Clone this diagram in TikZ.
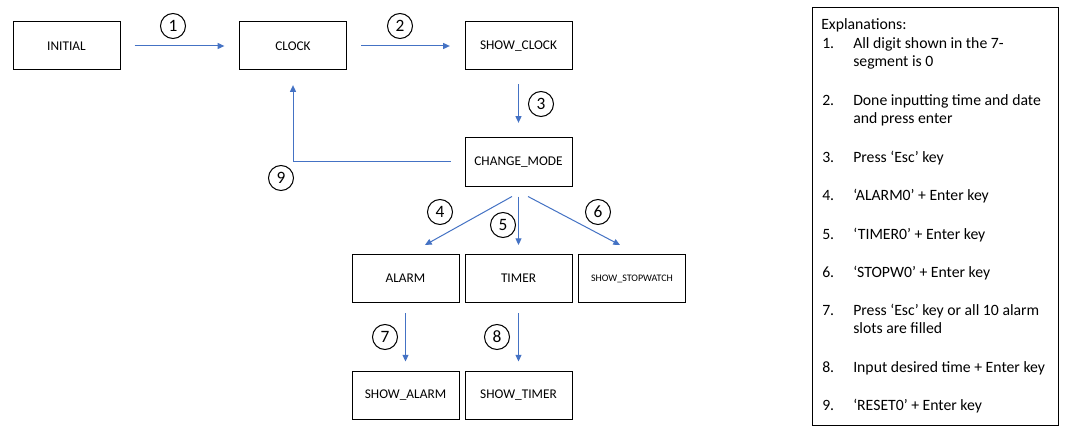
\documentclass[tikz,border=0pt]{standalone}
\usepackage{fontspec}
\setmainfont{Carlito}
\usetikzlibrary{arrows.meta}
\definecolor{flowblue}{HTML}{4472C4}
\tikzset{
  state/.style={draw, line width=0.75pt, minimum width=80.25pt, minimum height=36pt, inner sep=0pt, font=\fontsize{10}{12}\selectfont},
  flow/.style={draw=flowblue, line width=0.75pt, -{Triangle[length=5pt,width=4.5pt]}, shorten <=10.5pt, shorten >=11pt},
  short/.style={shorten <=7.5pt, shorten >=6.75pt},
  num/.style={draw, circle, line width=0.75pt, minimum size=18.75pt, inner sep=0pt, font=\fontsize{13}{15}\selectfont},
  expl/.style={anchor=base west, inner sep=0pt, font=\fontsize{11.8}{14}\selectfont}
}
\begin{document}
\begin{tikzpicture}[x=0.75pt,y=-0.75pt]
\path[fill=white,use as bounding box] (0,0) rectangle (1065,435);
\node[state] (initial) at (66.5,46) {INITIAL};
\node[state] (clock) at (293,46) {CLOCK};
\node[state] (showclock) at (518.5,46) {SHOW\_CLOCK};
\node[state] (mode) at (518.5,162) {CHANGE\_MODE};
\node[state] (alarm) at (405.5,278.5) {ALARM};
\node[state] (timer) at (518.5,278.5) {TIMER};
\node[state, font=\fontsize{7.5}{9}\selectfont] (stopwatch) at (632,278.5) {SHOW\_STOPWATCH};
\node[state] (showalarm) at (405.5,395) {SHOW\_ALARM};
\node[state] (showtimer) at (518.5,395) {SHOW\_TIMER};

\path[flow] (initial) -- (clock);
\path[flow] (clock) -- (showclock);
\path[flow] (showclock) -- (mode);
\path[flow] (mode.west) -| (clock.south);
\path[flow, shorten <=0pt, shorten >=0pt] ([shift={(-6.5,10)}]mode.south) -- ([shift={(19.5,-9)}]alarm.north);
\path[flow, short] (mode) -- (timer);
\path[flow, shorten <=0pt, shorten >=0pt] ([shift={(9.5,10)}]mode.south) -- ([shift={(-12,-9)}]stopwatch.north);
\path[flow, short] (alarm) -- (showalarm);
\path[flow, short] (timer) -- (showtimer);

\node[num] (n1) at (173,26) {1};
\node[num] (n2) at (400,26) {2};
\node[num] (n3) at (541,104) {3};
\node[num] (n4) at (440,212) {4};
\node[num] (n5) at (503,225) {5};
\node[num] (n6) at (598,212) {6};
\node[num] (n7) at (385,337) {7};
\node[num] (n8) at (497,337) {8};
\node[num] (n9) at (281,178) {9};

% explanations
\draw[line width=0.75pt] (812,8) rectangle (1058,425);
\node[expl] (title) at (821,30) {Explanations:};
\node[expl] (k1) at (822,49) {1.};
\node[expl] (t1) at (853,49) {All digit shown in the 7-};
\node[expl] (t1b) at (853,67) {segment is 0};
\node[expl] (k2) at (822,105.5) {2.};
\node[expl] (t2) at (853,105.5) {Done inputting time and date};
\node[expl] (t2b) at (853,123.5) {and press enter};
\node[expl] (k3) at (822,162) {3.};
\node[expl] (t3) at (853,162) {Press ‘Esc’ key};
\node[expl] (k4) at (822,200.5) {4.};
\node[expl] (t4) at (853,200.5) {‘ALARM0’ + Enter key};
\node[expl] (k5) at (822,239) {5.};
\node[expl] (t5) at (853,239) {‘TIMER0’ + Enter key};
\node[expl] (k6) at (822,277) {6.};
\node[expl] (t6) at (853,277) {‘STOPW0’ + Enter key};
\node[expl] (k7) at (822,315.5) {7.};
\node[expl] (t7) at (853,315.5) {Press ‘Esc’ key or all 10 alarm};
\node[expl] (t7b) at (853,333.5) {slots are filled};
\node[expl] (k8) at (822,372) {8.};
\node[expl] (t8) at (853,372) {Input desired time + Enter key};
\node[expl] (k9) at (822,410.5) {9.};
\node[expl] (t9) at (853,410.5) {‘RESET0’ + Enter key};
\end{tikzpicture}
\end{document}
